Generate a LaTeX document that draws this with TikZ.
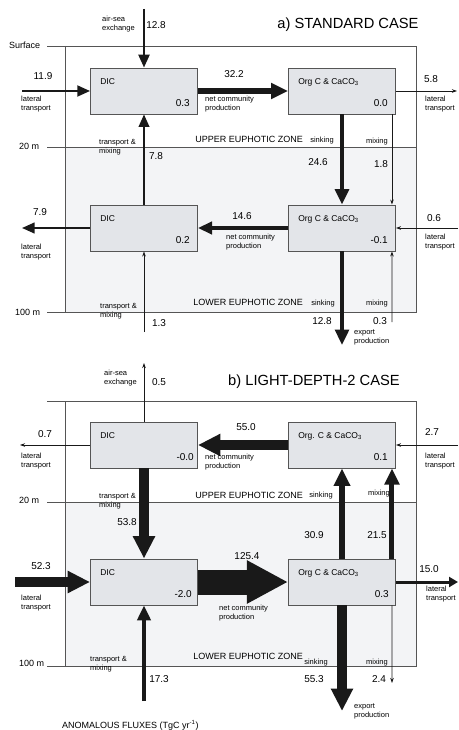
\documentclass[tikz,border=0pt]{standalone}
\usepackage{fontspec}
\setmainfont{Liberation Sans}
\usepackage{xcolor}
\usepackage{tikz}
\usetikzlibrary{arrows.meta, positioning, calc}
\definecolor{poolfill}{RGB}{227,229,233}
\definecolor{zonefill}{RGB}{243,244,246}
\definecolor{fluxink}{RGB}{25,25,25}
\definecolor{frameink}{RGB}{85,85,85}
\tikzset{
    poolbox/.style={rectangle, minimum width=107pt, minimum height=46pt, inner sep=0pt,
        draw=frameink, fill=poolfill, line width=0.9pt},
    pooltitle/.style={anchor=base west, inner sep=0pt, font=\fontsize{8.5}{10}\selectfont},
    poolvalue/.style={anchor=base east, inner sep=0pt, font=\fontsize{10}{12}\selectfont},
    fluxvalue/.style={inner sep=0pt, font=\fontsize{10}{12}\selectfont},
    fluxname/.style={anchor=north west, align=left, inner sep=0pt, font=\fontsize{7.5}{9}\selectfont},
    zonename/.style={anchor=east, inner sep=0pt, font=\fontsize{9}{11}\selectfont},
    depthname/.style={anchor=west, inner sep=0pt, font=\fontsize{9}{11}\selectfont},
    casetitle/.style={inner sep=0pt, font=\fontsize{14.7}{17}\selectfont},
    frameline/.style={draw=frameink, line width=0.9pt},
    flux/.style={draw=fluxink, line width=#1, -{Triangle[length=10pt 1.25, width=8pt 1.3]}},
    thinflux/.style={draw=fluxink, line width=0.8pt, -{Stealth[length=5pt, width=3.5pt]}},
}

\begin{document}
\begin{tikzpicture}[x=1pt, y=-1pt]
    \useasboundingbox (0,0) rectangle (458,730);

    % a) standard case: zones
    \fill[zonefill] (65,147) rectangle (416,312);
    \draw[frameline] (47,46) -- (416,46) -- (416,312) -- (47,312);
    \draw[frameline] (65,46) -- (65,312);
    \draw[frameline] (47,147) -- (416,147);
    \node[casetitle] (titleA) at (348,25) {a) STANDARD CASE};
    \node[depthname] (surfA) at (9,45) {Surface};
    \node[depthname] (midA) at (19,146) {20 m};
    \node[depthname] (baseA) at (15,312) {100 m};
    \node[zonename] (upperA) at (303,139) {UPPER EUPHOTIC ZONE};
    \node[zonename] (lowerA) at (303,302) {LOWER EUPHOTIC ZONE};

    % a) pools
    \node[poolbox] (dicAU) at (144,91) {};
    \node[pooltitle] at ($(dicAU.north west)+(10,16.5)$) {DIC};
    \node[poolvalue] at ($(dicAU.south east)+(-8,-8)$) {0.3};
    \node[poolbox] (orgAU) at (342,91) {};
    \node[pooltitle] at ($(orgAU.north west)+(10,16.5)$) {Org C \& CaCO\textsubscript{3}};
    \node[poolvalue] at ($(orgAU.south east)+(-8,-8)$) {0.0};
    \node[poolbox] (dicAL) at (144,228) {};
    \node[pooltitle] at ($(dicAL.north west)+(10,16.5)$) {DIC};
    \node[poolvalue] at ($(dicAL.south east)+(-8,-8)$) {0.2};
    \node[poolbox] (orgAL) at (342,228) {};
    \node[pooltitle] at ($(orgAL.north west)+(10,16.5)$) {Org C \& CaCO\textsubscript{3}};
    \node[poolvalue] at ($(orgAL.south east)+(-8,-8)$) {-0.1};

    % a) fluxes
    \coordinate (airA) at (144,9);
    \draw[flux=2.3pt] (airA) -- (dicAU.north);
    \coordinate (latinA) at (22,91);
    \draw[flux=2.2pt] (latinA) -- (dicAU.west);
    \draw[flux=5.5pt] (dicAU.east) -- (orgAU.west);
    \coordinate (latoutA) at (457,91);
    \draw[thinflux] (orgAU.east) -- (latoutA);
    \draw[flux=4.3pt] (orgAU.south) -- (orgAL.north);
    \draw[thinflux] ($(orgAU.south east)+(-4,0)$) -- ($(orgAL.north east)+(-4,0)$);
    \draw[flux=2pt] (dicAL.north) -- (dicAU.south);
    \draw[flux=3.3pt] (orgAL.west) -- (dicAL.east);
    \coordinate (latoutAL) at (22,228);
    \draw[flux=2pt] (dicAL.west) -- (latoutAL);
    \coordinate (latinAL) at (458,228);
    \draw[thinflux] (latinAL) -- (orgAL.east);
    \coordinate (mixupA) at (144,332);
    \draw[thinflux] (mixupA) -- (dicAL.south);
    \coordinate (exportA) at (342,345);
    \draw[flux=4.3pt] (orgAL.south) -- (exportA);
    \coordinate (mixlowA) at (392,322);
    \draw[thinflux] (mixlowA) -- ($(orgAL.south east)+(-4,0)$);

    % a) flux labels
    \node[fluxname] at (102,16) {air-sea\\exchange};
    \node[fluxvalue] at (156,25) {12.8};
    \node[fluxvalue] at (43,76) {11.9};
    \node[fluxname] at (21,95.5) {lateral\\transport};
    \node[fluxvalue] at (234,74) {32.2};
    \node[fluxname] at (205,95.5) {net community\\production};
    \node[fluxvalue] at (431,79) {5.8};
    \node[fluxname] at (425,95.5) {lateral\\transport};
    \node[fluxname] at (99,139.5) {transport \&\\mixing};
    \node[fluxvalue] at (156,156) {7.8};
    \node[fluxname, anchor=center] at (322,141) {sinking};
    \node[fluxname, anchor=center] at (377,142) {mixing};
    \node[fluxvalue] at (318,162) {24.6};
    \node[fluxvalue] at (381,164) {1.8};
    \node[fluxvalue] at (40,212) {7.9};
    \node[fluxname] at (21,243.5) {lateral\\transport};
    \node[fluxvalue] at (242,216) {14.6};
    \node[fluxname] at (226,233.5) {net community\\production};
    \node[fluxvalue] at (434,218) {0.6};
    \node[fluxname] at (425,233.5) {lateral\\transport};
    \node[fluxname] at (100,303.5) {transport \&\\mixing};
    \node[fluxvalue] at (159,323) {1.3};
    \node[fluxname, anchor=center] at (323,304) {sinking};
    \node[fluxname, anchor=center] at (377,304) {mixing};
    \node[fluxvalue] at (322,321) {12.8};
    \node[fluxvalue] at (380,321) {0.3};
    \node[fluxname] at (354,329.5) {export\\production};

    % b) light-depth-2 case: zones
    \fill[zonefill] (65,502) rectangle (416,666);
    \draw[frameline] (47,401) -- (416,401) -- (416,666) -- (47,666);
    \draw[frameline] (65,401) -- (65,666);
    \draw[frameline] (47,502) -- (416,502);
    \node[casetitle] (titleB) at (314,382) {b) LIGHT-DEPTH-2 CASE};
    \node[depthname] (midB) at (19,500) {20 m};
    \node[depthname] (baseB) at (19,663) {100 m};
    \node[zonename] (upperB) at (303,495) {UPPER EUPHOTIC ZONE};
    \node[zonename] (lowerB) at (303,656) {LOWER EUPHOTIC ZONE};

    % b) pools
    \node[poolbox] (dicBU) at (144,445) {};
    \node[pooltitle] at ($(dicBU.north west)+(10,16.5)$) {DIC};
    \node[poolvalue] at ($(dicBU.south east)+(-4,-8)$) {-0.0};
    \node[poolbox] (orgBU) at (342,445) {};
    \node[pooltitle] at ($(orgBU.north west)+(10,16.5)$) {Org. C \& CaCO\textsubscript{3}};
    \node[poolvalue] at ($(orgBU.south east)+(-8,-8)$) {0.1};
    \node[poolbox] (dicBL) at (144,582) {};
    \node[pooltitle] at ($(dicBL.north west)+(10,16.5)$) {DIC};
    \node[poolvalue] at ($(dicBL.south east)+(-6,-8)$) {-2.0};
    \node[poolbox] (orgBL) at (342,582) {};
    \node[pooltitle] at ($(orgBL.north west)+(10,16.5)$) {Org C \& CaCO\textsubscript{3}};
    \node[poolvalue] at ($(orgBL.south east)+(-7,-8)$) {0.3};

    % b) fluxes
    \coordinate (airB) at (144,363);
    \draw[thinflux] (dicBU.north) -- (airB);
    \coordinate (latoutBU) at (20,445);
    \draw[thinflux] (dicBU.west) -- (latoutBU);
    \draw[flux=10pt] (orgBU.west) -- (dicBU.east);
    \coordinate (latinBU) at (458,445);
    \draw[thinflux] (latinBU) -- (orgBU.east);
    \draw[flux=10pt] (dicBU.south) -- (dicBL.north);
    \draw[flux=6pt] (orgBL.north) -- (orgBU.south);
    \draw[flux=5pt] ($(orgBL.north east)+(-4,0)$) -- ($(orgBU.south east)+(-4,0)$);
    \coordinate (latinBL) at (15,582);
    \draw[flux=10pt] (latinBL) -- (dicBL.west);
    \draw[flux=25pt] (dicBL.east) -- (orgBL.west);
    \coordinate (latoutBL) at (458,582);
    \draw[flux=3pt, -{Triangle[length=9pt, width=10pt]}] (orgBL.east) -- (latoutBL);
    \coordinate (mixupB) at (144,701);
    \draw[flux=4pt] (mixupB) -- (dicBL.south);
    \coordinate (exportB) at (342,711);
    \draw[flux=10pt] (orgBL.south) -- (exportB);
    \coordinate (mixlowB) at (392,683);
    \draw[thinflux] ($(orgBL.south east)+(-4,0)$) -- (mixlowB);

    % b) flux labels
    \node[fluxname] at (104,369.5) {air-sea\\exchange};
    \node[fluxvalue] at (159,382) {0.5};
    \node[fluxvalue] at (45,434) {0.7};
    \node[fluxname] at (21,452.5) {lateral\\transport};
    \node[fluxvalue] at (246,427) {55.0};
    \node[fluxname] at (205,453.5) {net community\\production};
    \node[fluxvalue] at (432,432) {2.7};
    \node[fluxname] at (425,452.5) {lateral\\transport};
    \node[fluxname] at (99,493.5) {transport \&\\mixing};
    \node[fluxname, anchor=center] at (321,496) {sinking};
    \node[fluxname, anchor=center] at (379,494) {mixing};
    \node[fluxvalue] at (127,522) {53.8};
    \node[fluxvalue] at (314,535) {30.9};
    \node[fluxvalue] at (377,535) {21.5};
    \node[fluxvalue] at (41,566) {52.3};
    \node[fluxname] at (21,594.5) {lateral\\transport};
    \node[fluxvalue] at (247,556) {125.4};
    \node[fluxname] at (219,604.5) {net community\\production};
    \node[fluxvalue] at (429,569) {15.0};
    \node[fluxname] at (426,586) {lateral\\transport};
    \node[fluxname] at (90,656.5) {transport \&\\mixing};
    \node[fluxvalue] at (159,679) {17.3};
    \node[fluxname, anchor=center] at (316,663) {sinking};
    \node[fluxname, anchor=center] at (377,663) {mixing};
    \node[fluxvalue] at (314,679) {55.3};
    \node[fluxvalue] at (379,679) {2.4};
    \node[fluxname] at (354,703.5) {export\\production};
    \node[depthname, font=\fontsize{9}{11}\selectfont] (unitsB) at (62,725) {ANOMALOUS FLUXES (TgC yr\textsuperscript{-1})};
\end{tikzpicture}
\end{document}
